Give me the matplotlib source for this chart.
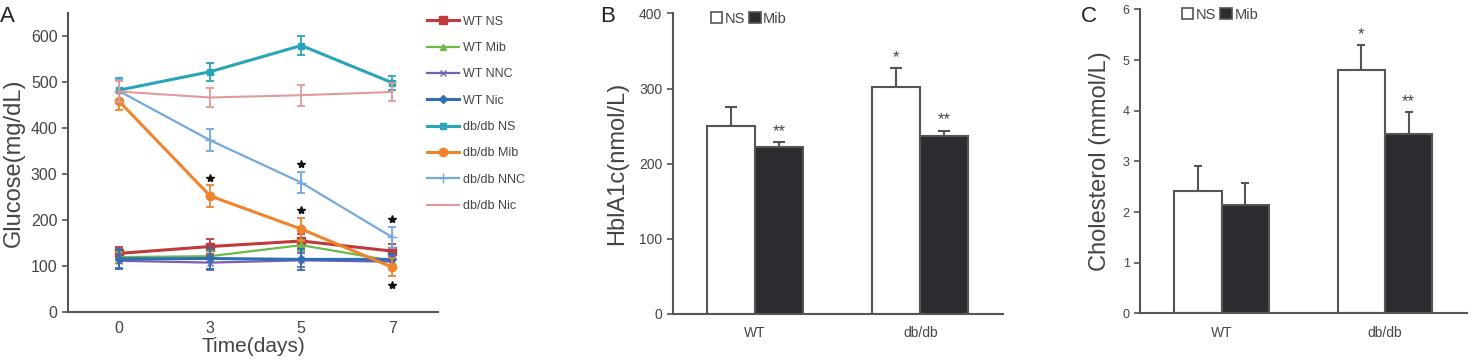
import matplotlib
matplotlib.use("Agg")
from matplotlib import pyplot as plt
from matplotlib.patches import Patch
from matplotlib.lines import Line2D
import numpy as np

plt.rcParams['font.family'] = ['Liberation Sans', 'DejaVu Sans']

# ---- panel A data: glucose over time ----
days = ['0', '3', '5', '7']
series_names = ['WT NS', 'WT Mib', 'WT NNC', 'WT Nic',
                'db/db NS', 'db/db Mib', 'db/db NNC', 'db/db Nic']
wt_ns = [128, 143, 155, 133]
wt_mib = [120, 122, 146, 112]
wt_nnc = [112, 108, 113, 110]
wt_nic = [116, 117, 115, 115]
db_ns = [483, 523, 580, 499]
db_mib = [459, 253, 181, 98]
db_nnc = [481, 374, 282, 163]
db_nic = [480, 467, 472, 479]
wt_ns_err = [15, 17, 15, 15]
wt_mib_err = [12, 12, 12, 12]
wt_nnc_err = [15, 15, 15, 12]
wt_nic_err = [22, 22, 23, 12]
db_ns_err = [27, 20, 21, 15]
db_mib_err = [20, 23, 25, 19]
db_nnc_err = [24, 24, 23, 23]
db_nic_err = [22, 21, 23, 20]
# significance stars: (series index, day index, side)
glucose_stars = [(5, 1, 'up'), (6, 2, 'up'), (5, 2, 'up'), (6, 3, 'up'), (5, 3, 'down')]

# ---- panel B / C data ----
groups = ['WT', 'db/db']
hba1c_ns = [250, 302]
hba1c_mib = [222, 237]
hba1c_ns_err = [26, 25]
hba1c_mib_err = [7, 7]
hba1c_ns_sig = ['', '*']
hba1c_mib_sig = ['**', '**']

chol_ns = [2.41, 4.80]
chol_mib = [2.14, 3.54]
chol_ns_err = [0.50, 0.50]
chol_mib_err = [0.43, 0.44]
chol_ns_sig = ['', '*']
chol_mib_sig = ['', '**']

gray = '#555555'
txt = '#444444'

fig = plt.figure(figsize=(14.74, 3.6), dpi=100)

# ================= A =================
axA = fig.add_axes([0.0461, 0.1325, 0.251, 0.8305])
vals = [wt_ns, wt_mib, wt_nnc, wt_nic, db_ns, db_mib, db_nnc, db_nic]
errs = [wt_ns_err, wt_mib_err, wt_nnc_err, wt_nic_err,
        db_ns_err, db_mib_err, db_nnc_err, db_nic_err]
colors = ['#c0393b', '#6cb84a', '#7b5fb0', '#2f6fb5',
          '#2aa5b8', '#f0842c', '#74a9dc', '#e09a9c']
markers = ['s', '^', 'x', 'D', 's', 'o', '+', None]
msizes = [6, 5, 5, 4, 5, 6, 7, 0]
lws = [2.2, 1.6, 1.6, 2.2, 2.2, 2.2, 1.6, 1.5]
x = np.arange(len(days))
order = [7, 6, 4, 5, 1, 2, 0, 3]
for i in order:
    axA.errorbar(x, vals[i], yerr=errs[i], color=colors[i], marker=markers[i],
                 markersize=msizes[i], lw=lws[i], capsize=3, elinewidth=1.3,
                 capthick=1.3, zorder=3 + i)
for s, d, side in glucose_stars:
    if side == 'up':
        yy = vals[s][d] + errs[s][d] + 17
    else:
        yy = vals[s][d] - errs[s][d] - 19
    axA.plot(x[d], yy, marker='*', color='#111111', markersize=6, ls='none', zorder=20)

axA.set_xlim(-0.56, 3.5)
axA.set_ylim(0, 650)
axA.set_yticks(range(0, 700, 100))
axA.set_xticks(x)
axA.set_xticklabels(days)
axA.tick_params(axis='x', length=0, pad=6, labelsize=11.5, colors=txt)
axA.tick_params(axis='y', length=4, width=1.2, color=gray, labelsize=11.5, colors=txt)
axA.set_ylabel('Glucose(mg/dL)', fontsize=17, color=txt, labelpad=4)
axA.set_xlabel('Time(days)', fontsize=15, color=txt, labelpad=1)
for sp in ['top', 'right']:
    axA.spines[sp].set_visible(False)
for sp in ['left', 'bottom']:
    axA.spines[sp].set_color(gray)
    axA.spines[sp].set_linewidth(1.5)
leg_handles = [Line2D([], [], color=colors[i], marker=markers[i], markersize=msizes[i],
                      lw=lws[i]) for i in range(len(series_names))]
axA.legend(leg_handles, series_names, loc='upper left',
           bbox_to_anchor=(0.94, 1.03), frameon=False, fontsize=9,
           labelspacing=1.15, handlelength=2.6, handletextpad=0.3, labelcolor=txt)
fig.text(0.0, 0.955, 'A', fontsize=16, color='#222222', va='center')


def bar_panel(rect, ns, mib, ns_err, mib_err, ns_sig, mib_sig, ylim, yticks,
              ylabel, letter, letter_x, leg_x, cap, star_off, tick_size):
    ax = fig.add_axes(rect)
    pos = np.arange(len(groups))
    w = 0.29
    ax.bar(pos - w / 2, ns, w, color='white', edgecolor=gray, lw=1.5, zorder=2)
    ax.bar(pos + w / 2, mib, w, color='#2b2b30', edgecolor=gray, lw=1.5, zorder=2)
    ax.errorbar(pos - w / 2, ns, yerr=[np.zeros(len(ns)), ns_err], fmt='none',
                ecolor=gray, elinewidth=1.5, capsize=cap, capthick=1.5, zorder=1)
    ax.errorbar(pos + w / 2, mib, yerr=[np.zeros(len(mib)), mib_err], fmt='none',
                ecolor=gray, elinewidth=1.5, capsize=cap, capthick=1.5, zorder=1)
    for i in range(len(groups)):
        if ns_sig[i]:
            ax.text(pos[i] - w / 2, ns[i] + ns_err[i] + star_off, ns_sig[i],
                    ha='center', va='center', fontsize=12, color=txt)
        if mib_sig[i]:
            ax.text(pos[i] + w / 2, mib[i] + mib_err[i] + star_off, mib_sig[i],
                    ha='center', va='center', fontsize=12, color=txt)
    ax.set_xlim(-0.5, 1.5)
    ax.set_ylim(*ylim)
    ax.set_yticks(yticks)
    ax.set_xticks(pos)
    ax.set_xticklabels(groups)
    ax.tick_params(axis='x', length=0, pad=9, labelsize=10, colors=txt)
    ax.tick_params(axis='y', length=4, width=1.2, color=gray, labelsize=tick_size, colors=txt)
    ax.set_ylabel(ylabel, fontsize=17, color=txt, labelpad=8)
    for sp in ['top', 'right']:
        ax.spines[sp].set_visible(False)
    for sp in ['left', 'bottom']:
        ax.spines[sp].set_color(gray)
        ax.spines[sp].set_linewidth(1.5)
    handles = [Patch(facecolor='white', edgecolor=gray, lw=1.2),
               Patch(facecolor='#2b2b30', edgecolor=gray, lw=1.2)]
    ax.legend(handles, ['NS', 'Mib'], loc='center left', bbox_to_anchor=(leg_x, 0.983),
              ncol=2, frameon=False, fontsize=10.5, handlelength=0.8, handleheight=0.8,
              handletextpad=0.15, columnspacing=0.3, borderaxespad=0, borderpad=0,
              labelcolor=txt)
    fig.text(letter_x, 0.955, letter, fontsize=16, color='#222222', va='center')
    return ax


# ================= B =================
bar_panel([0.4564, 0.1278, 0.2239, 0.835], hba1c_ns, hba1c_mib, hba1c_ns_err,
          hba1c_mib_err, hba1c_ns_sig, hba1c_mib_sig, (0, 400), range(0, 500, 100),
          'HblA1c(nmol/L)', 'B', 0.407, 0.115, 4, 14, 10)

# ================= C =================
bar_panel([0.7734, 0.1297, 0.2216, 0.844], chol_ns, chol_mib, chol_ns_err,
          chol_mib_err, chol_ns_sig, chol_mib_sig, (0, 6), range(0, 7),
          'Cholesterol (mmol/L)', 'C', 0.7335, 0.128, 3, 0.2, 9)

fig.savefig('out.png', dpi=100)
